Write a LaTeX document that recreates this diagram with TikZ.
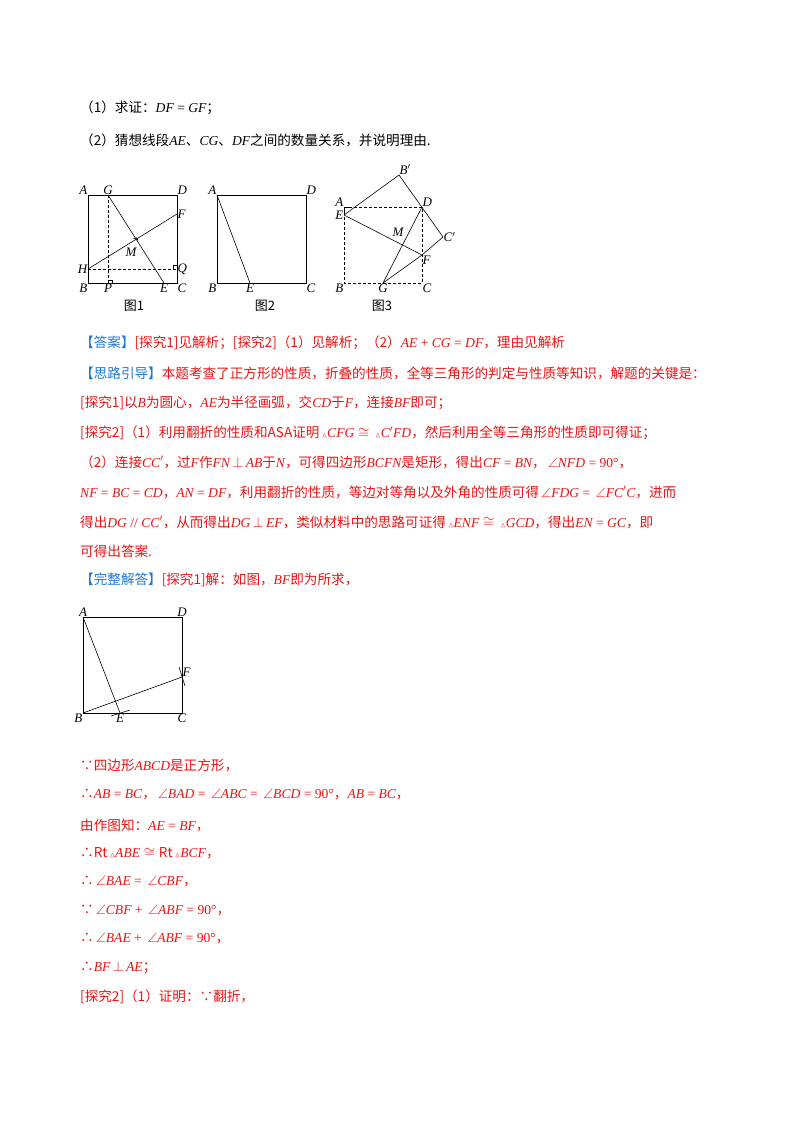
\documentclass[tikz,border=0pt]{standalone}
\usepackage{fontspec}
\usepackage{amssymb}
\setmainfont{Noto Sans CJK SC}
\newfontfamily\lat{Liberation Serif}
\newcommand{\mi}[1]{{\lat\itshape #1}}
\newcommand{\mr}[1]{{\lat #1}}
\newcommand{\ang}{\,$\angle$}
\newcommand{\pp}{\,$\perp$\,}
\newcommand{\tri}{\,{\scriptsize$\vartriangle$}}
\newcommand{\cg}{\;$\cong$\;}
\definecolor{rd}{RGB}{235,20,20}
\definecolor{bl}{RGB}{30,120,210}
\begin{document}
\begin{tikzpicture}[x=1pt,y=-1pt,
  tx/.style={anchor=west,inner sep=0pt,font=\fontsize{13.6}{15}\selectfont},
  lb/.style={inner sep=0.5pt,font=\lat\itshape\fontsize{13}{14}\selectfont},
  figcap/.style={inner sep=1pt,font=\fontsize{13}{14}\selectfont},
  ln/.style={line width=0.6pt},
  ds/.style={line width=0.6pt,dash pattern=on 3pt off 2pt}]
\fill[white] (0,0) rectangle (800,1132);
\useasboundingbox (0,0) rectangle (800,1132);
% text
\node[tx] (t1) at (80,108) {（1）求证：\mi{DF}\mr{ = }\mi{GF}；};
\node[tx] (t2) at (80,140) {（2）猜想线段\mi{AE}、\mi{CG}、\mi{DF}之间的数量关系，并说明理由.};
% fig1
\coordinate (A1) at (88,195); \coordinate (D1) at (177,195);
\coordinate (B1) at (88,283); \coordinate (C1) at (177,283);
\coordinate (G1) at (108,195); \coordinate (F1) at (177,214);
\coordinate (H1) at (88,269); \coordinate (E1) at (164,283);
\coordinate (Q1) at (177,269); \coordinate (P1) at (108,283);
\draw[ln] (A1) rectangle (C1);
\draw[ln] (G1)--(E1) (H1)--(F1);
\draw[ds] (G1)--(P1) (H1)--(Q1);
\draw[ln] (108,280)--(112,280)--(112,283) (173,269)--(173,265)--(177,265);
\draw[ln] (133.5,238.6)--(136.5,237.8)--(138,240.5);
\node[lb,above left] at (A1) {A}; \node[lb,above] at (G1) {G};
\node[lb,above right] at (D1) {D}; \node[lb,right] at (F1) {F};
\node[lb,left] at (H1) {H}; \node[lb,below left] at (B1) {B};
\node[lb,below] at (P1) {P}; \node[lb,below] at (E1) {E};
\node[lb,below right] at (C1) {C}; \node[lb,right] at (Q1) {Q};
\node[lb] at (131,252) {M};
\node[figcap] at (134,306) {图1};
% fig2
\coordinate (A2) at (217,195); \coordinate (D2) at (306,195);
\coordinate (B2) at (217,283); \coordinate (C2) at (306,283);
\coordinate (E2) at (250,283);
\draw[ln] (A2) rectangle (C2); \draw[ln] (A2)--(E2);
\node[lb,above left] at (A2) {A}; \node[lb,above right] at (D2) {D};
\node[lb,below left] at (B2) {B}; \node[lb,below] at (E2) {E};
\node[lb,below right] at (C2) {C};
\node[figcap] at (265,306) {图2};
% fig3
\coordinate (A3) at (344,207); \coordinate (D3) at (422,207);
\coordinate (B3) at (344,283); \coordinate (C3) at (422,283);
\coordinate (E3) at (344,215); \coordinate (Bp) at (399,175);
\coordinate (Cp) at (443,237); \coordinate (F3) at (422,255);
\coordinate (G3) at (383,283);
\draw[ds] (A3) rectangle (C3);
\draw[ln] (A3)--(E3) (A3)--(350,207);
\draw[ln] (E3)--(Bp)--(Cp)--(F3)--(G3)--(D3) (E3)--(F3);
\node[lb,above left] at (A3) {A}; \node[lb,left] at (E3) {E};
\node[lb,above right] at (Bp) {B$'$};
\node[lb,above right] at (D3) {D}; \node[lb,right] at (Cp) {C$'$};
\node[lb,below right] at (F3) {F}; \node[lb] at (398,232) {M};
\node[lb,below left] at (B3) {B}; \node[lb,below] at (G3) {G};
\node[lb,below right] at (C3) {C};
\node[figcap] at (382,306) {图3};
% answer text
\node[tx] (t3) at (80,343) {\color{bl}【答案】\color{rd}[探究1]见解析；[探究2]（1）见解析；（2）\mi{AE}\mr{ + }\mi{CG}\mr{ = }\mi{DF}，理由见解析};
\node[tx] (t4) at (80,373) {\color{bl}【思路引导】\color{rd}本题考查了正方形的性质，折叠的性质，全等三角形的判定与性质等知识，解题的关键是：};
\node[tx,rd] (t5) at (80,403) {[探究1]以\mi{B}为圆心，\mi{AE}为半径画弧，交\mi{CD}于\mi{F}，连接\mi{BF}即可；};
\node[tx,rd] (t6) at (80,433) {[探究2]（1）利用翻折的性质和ASA证明\tri\mi{CFG}\cg\tri\mi{C$'$FD}，然后利用全等三角形的性质即可得证；};
\node[tx,rd] (t7) at (80,462) {（2）连接\mi{CC$'$}，过\mi{F}作\mi{FN}\pp\mi{AB}于\mi{N}，可得四边形\mi{BCFN}是矩形，得出\mi{CF}\mr{ = }\mi{BN}，\ang\mi{NFD}\mr{ = 90°}，};
\node[tx,rd] (t8) at (80,492) {\mi{NF}\mr{ = }\mi{BC}\mr{ = }\mi{CD}，\mi{AN}\mr{ = }\mi{DF}，利用翻折的性质，等边对等角以及外角的性质可得\ang\mi{FDG}\mr{ = }\ang\mi{FC$'$C}，进而};
\node[tx,rd] (t9) at (80,522) {得出\mi{DG}\mr{ // }\mi{CC$'$}，从而得出\mi{DG}\pp\mi{EF}，类似材料中的思路可证得\tri\mi{ENF}\cg\tri\mi{GCD}，得出\mi{EN}\mr{ = }\mi{GC}，即};
\node[tx,rd] (t10) at (80,551) {可得出答案.};
\node[tx] (t11) at (80,580) {\color{bl}【完整解答】\color{rd}[探究1]解：如图，\mi{BF}即为所求，};
% fig4
\coordinate (A4) at (83,617); \coordinate (D4) at (182,617);
\coordinate (B4) at (83,713); \coordinate (C4) at (182,713);
\coordinate (E4) at (120,713); \coordinate (F4) at (182,677);
\draw[ln] (A4) rectangle (C4);
\draw[ln] (A4)--(E4) (B4)--(F4);
\draw[ln] (111,716) .. controls (120,713) .. (130,710);
\draw[ln] (179,667) .. controls (182,677) .. (185,686);
\node[lb,above] at (A4) {A}; \node[lb,above] at (D4) {D};
\node[lb,below left] at (B4) {B}; \node[lb,below] at (E4) {E};
\node[lb,below] at (C4) {C}; \node[lb,above right] at (F4) {F};
% solution
\node[tx,rd] (s1) at (80,765) {∵四边形\mi{ABCD}是正方形，};
\node[tx,rd] (s2) at (80,795) {∴\mi{AB}\mr{ = }\mi{BC}，\ang\mi{BAD}\mr{ = }\ang\mi{ABC}\mr{ = }\ang\mi{BCD}\mr{ = 90°}，\mi{AB}\mr{ = }\mi{BC}，};
\node[tx,rd] (s3) at (80,825) {由作图知：\mi{AE}\mr{ = }\mi{BF}，};
\node[tx,rd] (s4) at (80,853) {∴Rt\tri\mi{ABE}\cg Rt\tri\mi{BCF}，};
\node[tx,rd] (s5) at (80,882) {∴\ang\mi{BAE}\mr{ = }\ang\mi{CBF}，};
\node[tx,rd] (s6) at (80,911) {∵\ang\mi{CBF}\mr{ + }\ang\mi{ABF}\mr{ = 90°}，};
\node[tx,rd] (s7) at (80,939) {∴\ang\mi{BAE}\mr{ + }\ang\mi{ABF}\mr{ = 90°}，};
\node[tx,rd] (s8) at (80,968) {∴\mi{BF}\pp\mi{AE}；};
\node[tx,rd] (s9) at (80,997) {[探究2]（1）证明：∵翻折，};
\end{tikzpicture}
\end{document}
